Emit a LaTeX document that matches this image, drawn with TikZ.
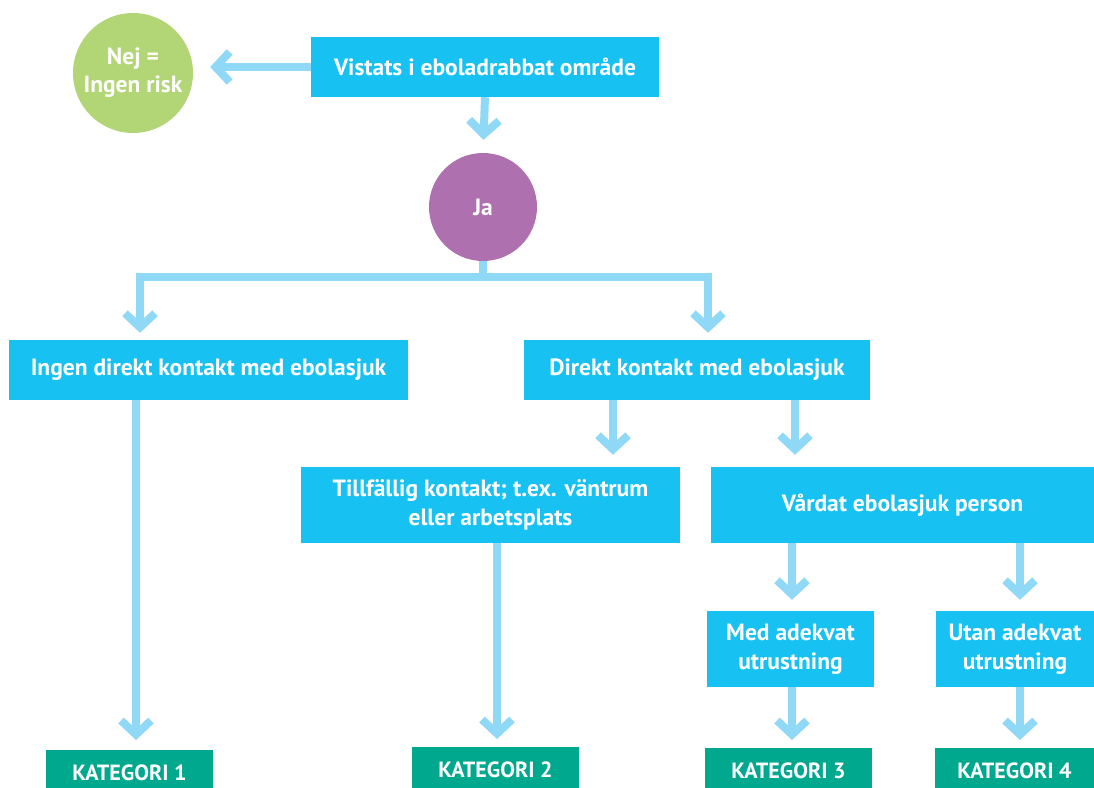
\documentclass[tikz,border=0pt]{standalone}
\usepackage{fontspec}
\setmainfont{PT Sans}
\usetikzlibrary{arrows.meta}
\definecolor{boxc}{HTML}{17C1F2}
\definecolor{arrc}{HTML}{8FD8F6}
\definecolor{greenc}{HTML}{B2D576}
\definecolor{purc}{HTML}{AE70AE}
\definecolor{tealc}{HTML}{00A88E}
\tikzset{
  box/.style={rectangle, fill=boxc, text=white, inner sep=0pt, align=center,
    font=\fontsize{23.5}{29}\selectfont\bfseries},
  kat/.style={rectangle, fill=tealc, text=white, inner sep=0pt, anchor=north,
    minimum width=168pt, minimum height=46pt, font=\fontsize{22}{24}\selectfont\bfseries},
  circ/.style={circle, inner sep=0pt, text=white, align=center,
    font=\fontsize{23.5}{28}\selectfont\bfseries},
  arr/.style={draw=arrc, line width=8pt, line join=miter,
    -{Straight Barb[length=14pt,width=30pt,line width=8pt]}}
}
\begin{document}
\begin{tikzpicture}[x=1pt,y=-1pt]
\useasboundingbox (0,0) rectangle (1094,787);
\clip (0,0) rectangle (1094,787);
% nodes
\node[circ, fill=greenc, minimum size=120pt] (nej) at (133,73) {Nej =\\Ingen risk};
\node[box, minimum width=348pt, minimum height=60pt] (vis) at (485,67) {Vistats i eboladrabbat område};
\node[circ, fill=purc, minimum size=108pt] (ja) at (483,207) {Ja};
\node[box, minimum width=399pt, minimum height=60pt] (ingen) at (208.5,370) {Ingen direkt kontakt med ebolasjuk};
\node[box, minimum width=346pt, minimum height=60pt] (direkt) at (697,370) {Direkt kontakt med ebolasjuk};
\node[box, minimum width=379pt, minimum height=76pt] (till) at (490.5,505) {Tillfällig kontakt; t.ex. väntrum\\eller arbetsplats};
\node[box, minimum width=383pt, minimum height=76pt] (vard) at (902.5,505) {Vårdat ebolasjuk person};
\node[box, minimum width=167pt, minimum height=76pt] (med) at (790.5,649) {Med adekvat\\utrustning};
\node[box, minimum width=158pt, minimum height=76pt] (utan) at (1015,649) {Utan adekvat\\utrustning};
\node[kat, minimum width=167pt] (k1) at (129.5,750) {KATEGORI 1};
\node[kat, minimum width=167pt] (k2) at (495.5,747) {KATEGORI 2};
\node[kat, minimum width=167pt] (k3) at (788.5,748) {KATEGORI 3};
\node[kat, minimum width=159pt] (k4) at (1014.5,748) {KATEGORI 4};
% helper coordinates
\coordinate (jl) at (140,277);
\coordinate (jr) at (708,277);
\coordinate (c1) at (136,0);
\coordinate (c2) at (613,0);
\coordinate (c3) at (795,0);
\coordinate (c4) at (497,0);
\coordinate (c5) at (792,0);
\coordinate (c6) at (1020,0);
% connectors
\draw[arr, shorten >=17pt] (vis.west) -- (vis.west -| nej.east);
\draw[arr, shorten >=13pt] (vis.south) -- (ja.north);
\draw[arr, shorten >=7pt] (ja.south) |- (jl) -- (jl |- ingen.north);
\draw[arr, shorten >=7pt] (ja.south) |- (jr) -- (jr |- direkt.north);
\draw[arr, shorten >=10pt] (c1 |- ingen.south) -- (c1 |- k1.north);
\draw[arr, shorten >=12pt] (c2 |- direkt.south) -- (c2 |- till.north);
\draw[arr, shorten >=12pt] (c3 |- direkt.south) -- (c3 |- vard.north);
\draw[arr, shorten >=8pt] (c4 |- till.south) -- (c4 |- k2.north);
\draw[arr, shorten >=11pt] (c5 |- vard.south) -- (c5 |- med.north);
\draw[arr, shorten >=11pt] (c6 |- vard.south) -- (c6 |- utan.north);
\draw[arr, shorten >=8pt] (c5 |- med.south) -- (c5 |- k3.north);
\draw[arr, shorten >=8pt] (c6 |- utan.south) -- (c6 |- k4.north);
\end{tikzpicture}
\end{document}
